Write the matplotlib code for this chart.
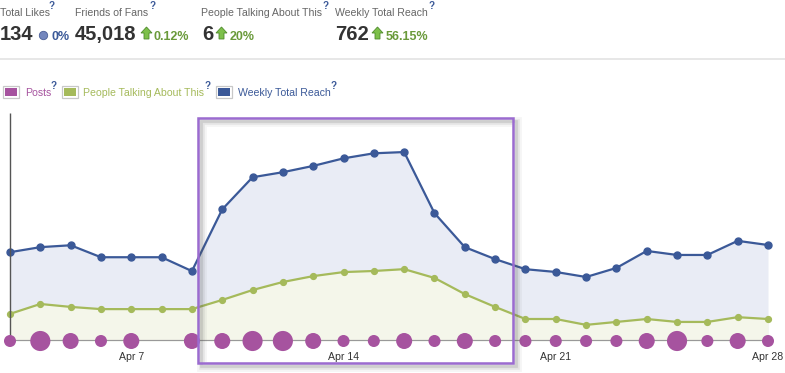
import matplotlib
matplotlib.use("Agg")
import matplotlib.pyplot as plt
from matplotlib.patches import Rectangle, Polygon, Ellipse
from matplotlib.lines import Line2D

W, H = 785, 373
plt.rcParams['font.family'] = ['Liberation Sans', 'DejaVu Sans']

# ---- data (Apr 3 .. Apr 28) ----
days = list(range(26))
tick_days = [4, 11, 18, 25]
tick_labels = ['Apr 7', 'Apr 14', 'Apr 21', 'Apr 28']
reach = [705, 745, 760, 665, 665, 665, 555, 1045, 1300, 1340, 1390, 1450, 1490, 1500,
         1015, 745, 650, 570, 548, 508, 580, 715, 683, 683, 795, 762]
talking = [7.4, 10.1, 9.3, 8.7, 8.7, 8.7, 8.7, 11.2, 13.9, 16.1, 17.7, 18.8, 19.1, 19.6,
           17.2, 12.8, 9.3, 6.0, 6.0, 4.4, 5.2, 6.0, 5.2, 5.2, 6.5, 6.0]
posts = [1, 3, 2, 1, 2, 0, 2, 2, 3, 3, 2, 1, 1, 2, 1, 2, 1, 1, 1, 1, 1, 2, 3, 1, 2, 1]

header_labels = ['Total Likes', 'Friends of Fans', 'People Talking About This', 'Weekly Total Reach']
header_values = ['134', '45,018', '6', '762']
header_changes = ['0%', '0.12%', '20%', '56.15%']

# colours
blue = '#3B5998'
blue_fill = '#E9ECF5'
green = '#A5BA5B'
green_fill = '#F4F6EA'
purple = '#A6539F'
qblue = '#3B5998'
up_green = '#6A9A3A'


def fx(x):
    return x / W


def fy(y):
    return 1 - y / H


fig = plt.figure(figsize=(W / 100, H / 100), dpi=100)
fig.patch.set_facecolor('white')

# ---- header ----
label_x = [0, 75, 201, 335]
q_x = [49, 150, 323, 429]
num_x = [0, 75, 202, 335]
chg_x = [51, 154, 230, 386]
arrow_x = [None, 141, 216, 372]
for i in range(4):
    fig.text(fx(label_x[i]), fy(16), header_labels[i], fontsize=7.6, color='#666666', va='baseline')
    fig.text(fx(q_x[i]), fy(9), '?', fontsize=7, color=qblue, fontweight='bold', va='baseline')
    fig.text(fx(num_x[i]), fy(40), header_values[i], fontsize=14.5, color='#333333',
             fontweight='bold', va='baseline')
    ccol = '#3B5998' if i == 0 else up_green
    fig.text(fx(chg_x[i]), fy(39.5), header_changes[i], fontsize=9, color=ccol,
             fontweight='bold', va='baseline')
    if arrow_x[i] is not None:
        a = arrow_x[i]
        pts = [(a, 33), (a + 5.5, 27), (a + 11, 33), (a + 8, 33), (a + 8, 39), (a + 3, 39), (a + 3, 33)]
        fig.add_artist(Polygon([(fx(px), fy(py)) for px, py in pts], closed=True,
                               facecolor='#7DC04A', edgecolor='#4F8B2B', lw=0.6))
fig.add_artist(Ellipse((fx(43.5), fy(35.5)), 8.4 / W, 8.4 / H, facecolor='#7386BD',
                       edgecolor='#4A5E96', lw=0.6, transform=fig.transFigure))
fig.add_artist(Line2D([0, 1], [fy(58.5), fy(58.5)], color='#E3E3E3', lw=1.2))

# ---- legend ----
leg_items = [('Posts', purple, 3, 25, 51), ('People Talking About This', green, 62, 83, 205),
             ('Weekly Total Reach', blue, 216, 238, 331)]
for name, col, sx, tx, qx in leg_items:
    fig.add_artist(Rectangle((fx(sx), fy(97.5)), 16 / W, 11.5 / H, facecolor='white',
                             edgecolor='#C8C8C8', lw=0.9))
    fig.add_artist(Rectangle((fx(sx + 1.8), fy(95.7)), 12.4 / W, 7.9 / H, facecolor=col,
                             edgecolor='none'))
    fig.text(fx(tx), fy(96), name, fontsize=7.6, color=col, va='baseline')
    fig.text(fx(qx), fy(89), '?', fontsize=7, color=qblue, fontweight='bold', va='baseline')

# ---- chart ----
base_px, top_px = 341, 113
ax = fig.add_axes([0, fy(base_px), 1, (base_px - top_px) / H])
step = (768 - 10) / 25
ax.set_xlim(-10 / step, 25 + 17 / step)
ax.set_ylim(0, 1810)
ax2 = ax.twinx()
ax2.set_ylim(0, 62.2)
for a in (ax, ax2):
    for s in a.spines.values():
        s.set_visible(False)
    a.set_yticks([])
ax.patch.set_alpha(0)

ax.fill_between(days, reach, 0, color=blue_fill, lw=0, zorder=1)
ax.plot(days, reach, color=blue, lw=1.6, marker='o', ms=5, mfc=blue, mec=blue, zorder=3)
ax2.fill_between(days, talking, 0, color=green_fill, lw=0, zorder=1)
ax2.plot(days, talking, color=green, lw=1.6, marker='o', ms=4.2, mfc=green, mec=green, zorder=3)

ax2.vlines(days[0], 0, 62.2, color='#555555', lw=1, zorder=4)
ax2.hlines(0, days[0], days[-1] + 0.2, color='#999999', lw=1.6, zorder=4)
size_map = {1: 75, 2: 133, 3: 210}
pd_x = [d for d, p in zip(days, posts) if p > 0]
pd_s = [size_map[p] for p in posts if p > 0]
ax2.scatter(pd_x, [0] * len(pd_x), s=pd_s, color=purple, lw=0, zorder=5, clip_on=False)

ax.set_xticks(tick_days)
ax.set_xticklabels(tick_labels, fontsize=7.6, color='#333333')
ax.tick_params(axis='x', length=0, pad=8)
ax2.tick_params(axis='x', length=0)

# ---- highlight box with shadow ----
bx0, by0, bx1, by1 = 198, 118, 513, 363
for off, lw, al in [(4, 7, 0.06), (4, 4, 0.10), (3, 2, 0.15)]:
    fig.add_artist(Rectangle((fx(bx0 + off), fy(by1 + off)), (bx1 - bx0) / W, (by1 - by0) / H,
                             facecolor='none', edgecolor='#555555', lw=lw, alpha=al))
fig.add_artist(Rectangle((fx(bx0), fy(by1)), (bx1 - bx0) / W, (by1 - by0) / H,
                         facecolor='none', edgecolor='#9B6BD0', lw=1.8))

fig.savefig('out.png', dpi=100, facecolor='white')
